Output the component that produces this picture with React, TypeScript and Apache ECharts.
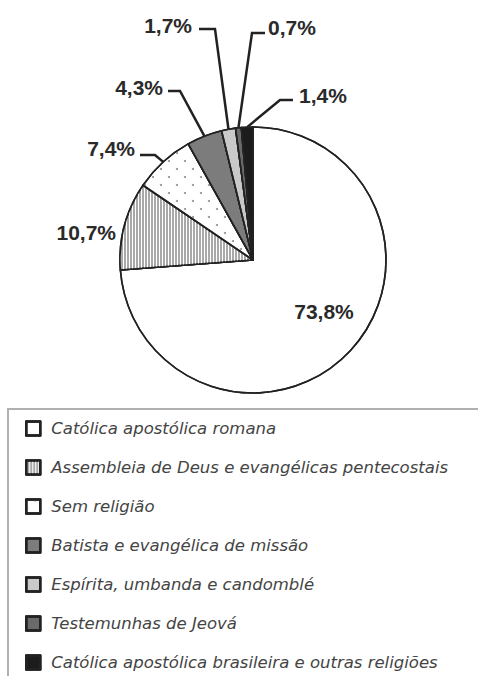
import React, { useEffect, useRef } from "react";
import * as echarts from "echarts";

const categories = [
  "Católica apostólica romana",
  "Assembleia de Deus e evangélicas pentecostais",
  "Sem religião",
  "Batista e evangélica de missão",
  "Espírita, umbanda e candomblé",
  "Testemunhas de Jeová",
  "Católica apostólica brasileira e outras religiões",
];
const values = [73.8, 10.7, 7.4, 4.3, 1.7, 0.7, 1.4];

const fills = ["#ffffff", "#a9a9a9", "#ffffff", "#7c7c7c", "#c9c9c9", "#6a6a6a", "#1c1c1c"];

const decals: any[] = [
  null,
  { symbol: "rect", symbolSize: 1, color: "#ffffff", dashArrayX: [1, 2], dashArrayY: [6, 0] },
  { symbol: "circle", symbolSize: 1, color: "#8c8c8c", dashArrayX: [[2, 14], [0, 8, 2, 6]], dashArrayY: [2, 6] },
  null,
  null,
  null,
  null,
];

const labelLayouts: any[] = [
  { x: 324, y: 311, align: "center" },
  { x: 116, y: 232, align: "right" },
  { x: 135, y: 148, align: "right", elbow: [155, 155], end: [140, 155] },
  { x: 163, y: 87, align: "right", elbow: [180, 91], end: [168, 91] },
  { x: 192, y: 25, align: "right", elbow: [215, 29], end: [199, 29] },
  { x: 268, y: 27, align: "left", elbow: [252, 33], end: [265, 33] },
  { x: 299, y: 95, align: "left", elbow: [280, 100], end: [293, 100] },
];

export default function App() {
  const ref = useRef<HTMLDivElement>(null);
  useEffect(() => {
    document.body.style.margin = "0";
    const chart = echarts.init(ref.current!, null, { renderer: "svg" });
    const data = values.map((v, i) => ({
      name: categories[i],
      value: v,
      itemStyle: {
        color: fills[i],
        decal: decals[i] || { symbol: "none" },
      },
      label: i === 0 ? { position: "inside" } : undefined,
      labelLine: { show: i > 1 },
    }));
    chart.setOption({
      animation: false,
      aria: { enabled: false, decal: { show: true } },
      legend: {
        orient: "vertical",
        left: 20,
        top: 415,
        height: 260,
        itemWidth: 14,
        itemHeight: 14,
        itemGap: 22,
        icon: "rect",
        selectedMode: false,
        itemStyle: { borderColor: "#222222", borderWidth: 2.5 },
        textStyle: {
          fontFamily: "DejaVu Sans",
          fontStyle: "italic",
          fontSize: 16.5,
          lineHeight: 16,
          color: "#444444",
          padding: [0, 0, 0, 6],
        },
        data: categories,
      },
      graphic: [
        {
          type: "polyline",
          shape: { points: [[8, 676], [8, 409], [478, 409]] },
          style: { stroke: "#b0b0b0", lineWidth: 2, fill: "none" },
          silent: true,
        },
      ],
      series: [
        {
          type: "pie",
          center: [253, 260],
          radius: 133,
          startAngle: 90,
          clockwise: true,
          avoidLabelOverlap: false,
          itemStyle: { borderColor: "#222222", borderWidth: 1.6 },
          label: {
            show: true,
            position: "outside",
            fontFamily: "Liberation Sans",
            fontWeight: "bold",
            fontSize: 21,
            color: "#2a2a2a",
            formatter: (p: any) => p.value.toFixed(1).replace(".", ",") + "%",
          },
          labelLine: {
            show: true,
            lineStyle: { color: "#222222", width: 2.5 },
          },
          emphasis: { disabled: true },
          labelLayout: (params: any) => {
            const L = labelLayouts[params.dataIndex];
            const res: any = { x: L.x, y: L.y, align: L.align, verticalAlign: "middle" };
            if (L.elbow && params.labelLinePoints) {
              res.labelLinePoints = [params.labelLinePoints[0], L.elbow, L.end];
            }
            return res;
          },
          data,
        },
      ],
    });
    return () => chart.dispose();
  }, []);
  return <div ref={ref} style={{ width: 478, height: 676 }} />;
}
